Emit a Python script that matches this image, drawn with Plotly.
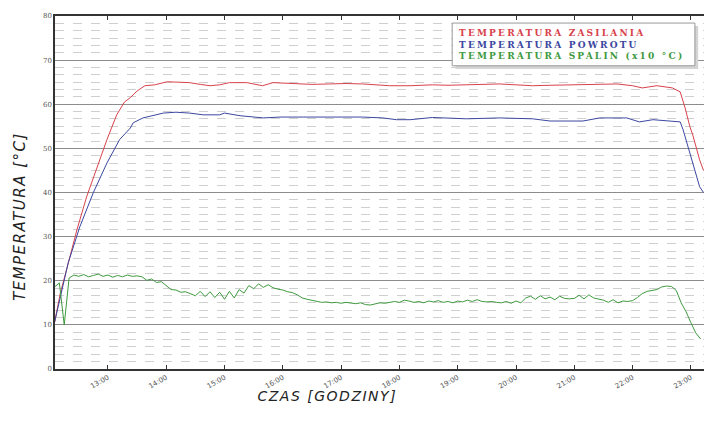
import plotly.graph_objects as go
import pandas as pd

DAY = "2013-01-01 "

# Supply temperature (red)
supply_times = ["12:05", "12:11", "12:18", "12:28", "12:38", "12:49", "12:59", "13:09", "13:17", "13:23",
                "13:30", "13:38", "13:48", "14:01", "14:12", "14:24", "14:35", "14:45", "14:55", "15:05",
                "15:23", "15:39", "15:50", "16:14", "16:30", "16:48", "17:05", "17:22", "17:50", "18:11",
                "18:34", "18:50", "19:09", "19:25", "19:43", "20:00", "20:17", "20:35", "20:52", "21:10",
                "21:26", "21:44", "22:00", "22:10", "22:25", "22:41", "22:49", "22:54", "22:59", "23:02",
                "23:09", "23:13"]
supply_vals = [10.5, 17.2, 23.0, 31.5, 39.0, 45.8, 52.0, 57.6, 60.5, 61.5,
               63.0, 64.2, 64.4, 65.1, 65.0, 64.9, 64.5, 64.2, 64.4, 64.9,
               64.9, 64.2, 64.9, 64.6, 64.5, 64.6, 64.7, 64.6, 64.2, 64.2,
               64.4, 64.3, 64.4, 64.5, 64.6, 64.4, 64.2, 64.3, 64.4, 64.5,
               64.6, 64.6, 64.2, 63.7, 64.2, 63.7, 62.8, 59.2, 54.9, 53.0,
               47.4, 45.0]

# Return temperature (blue)
return_times = ["12:05", "12:13", "12:19", "12:31", "12:45", "12:59", "13:12", "13:23", "13:26", "13:36",
                "13:57", "14:10", "14:24", "14:38", "14:55", "15:00", "15:16", "15:40", "15:57", "16:21",
                "16:48", "17:22", "17:43", "17:57", "18:11", "18:34", "19:09", "19:43", "20:17", "20:35",
                "21:09", "21:26", "21:54", "22:07", "22:21", "22:35", "22:49", "22:52", "23:01", "23:09",
                "23:13"]
return_vals = [10.5, 18.6, 24.0, 32.2, 40.0, 46.7, 52.0, 54.6, 55.8, 56.9,
               58.0, 58.2, 58.0, 57.6, 57.6, 58.0, 57.4, 56.9, 57.1, 57.1,
               57.1, 57.1, 56.9, 56.5, 56.5, 57.0, 56.7, 56.9, 56.7, 56.2,
               56.2, 56.9, 56.9, 56.0, 56.5, 56.2, 56.0, 54.2, 47.4, 41.3,
               40.0]

# Flue gas temperature (green, x10 degC), sampled every 5 minutes from 12:05
flue_start = "12:05"
flue_vals = [
    18.6, 19.5, 10.0, 20.6, 21.3, 21.0, 21.4, 20.9, 21.2, 21.5, 21.0,
    21.3, 20.8, 21.2, 20.9, 21.3, 21.0, 21.1, 20.9, 20.1, 20.4, 19.6, 19.8,
    18.8, 18.0, 17.9, 17.4, 17.5, 17.1, 16.6, 17.6, 16.4, 17.5, 16.2, 17.4,
    15.8, 17.6, 16.1, 18.0, 17.2, 18.9, 18.2, 19.3, 18.5, 19.1, 18.4, 18.1,
    17.9, 17.5, 17.3, 16.8, 16.1, 15.8, 15.6, 15.3, 15.1, 15.2, 15.0, 15.1,
    14.9, 15.1, 15.0, 14.8, 15.0, 14.6, 14.5, 14.8, 15.0, 14.9, 15.1, 15.3,
    15.1, 15.6, 15.4, 15.1, 15.3, 15.0, 15.4, 15.2, 15.5, 15.1, 15.3, 15.0,
    15.4, 15.2, 15.6, 15.3, 15.7, 15.3, 15.2, 15.3, 15.1, 15.0, 15.3, 14.9,
    15.4, 15.0, 16.1, 16.5, 15.8, 16.6, 15.9, 16.3, 15.7, 16.5, 16.0, 15.9,
    16.0, 16.7, 15.9, 16.8, 16.1, 15.9, 15.6, 15.1, 15.7, 15.0, 15.4, 15.3,
    15.5, 16.2, 17.1, 17.6, 17.8, 18.0, 18.6, 18.8, 18.7, 17.8, 15.0, 13.0,
    10.5, 8.2, 6.8,
]

y_ticks = [0, 10, 20, 30, 40, 50, 60, 70, 80]
x_tick_labels = ["13:00", "14:00", "15:00", "16:00", "17:00", "18:00",
                 "19:00", "20:00", "21:00", "22:00", "23:00"]

legend_texts = ["TEMPERATURA ZASILANIA", "TEMPERATURA POWROTU", "TEMPERATURA SPALIN (x10 °C)"]
y_title = "TEMPERATURA [°C]"
x_title = "CZAS [GODZINY]"

RED = "#d8434c"
BLUE = "#3c47a0"
GREEN = "#3f9a3f"

supply_x = pd.to_datetime([DAY + t for t in supply_times])
return_x = pd.to_datetime([DAY + t for t in return_times])
flue_x = pd.date_range(DAY + flue_start, periods=len(flue_vals), freq="5min")

fig = go.Figure()
fig.add_trace(go.Scatter(x=supply_x, y=supply_vals, mode="lines",
                         line=dict(color=RED, width=1), showlegend=False))
fig.add_trace(go.Scatter(x=return_x, y=return_vals, mode="lines",
                         line=dict(color=BLUE, width=1), showlegend=False))
fig.add_trace(go.Scatter(x=flue_x, y=flue_vals, mode="lines",
                         line=dict(color=GREEN, width=1), showlegend=False))

tickvals = pd.to_datetime([DAY + t for t in x_tick_labels])

fig.update_layout(
    width=704, height=430,
    margin=dict(l=55, r=0, t=16, b=61),
    paper_bgcolor="white", plot_bgcolor="white",
    font=dict(family="DejaVu Sans", color="#444"),
    xaxis=dict(
        type="date", automargin=False,
        range=[DAY + "12:05:30", DAY + "23:13:30"],
        tickvals=tickvals, ticktext=x_tick_labels,
        tickangle=-30, tickfont=dict(size=7, color="#555", family="DejaVu Sans"),
        ticks="inside", ticklen=4, tickcolor="#333",
        showgrid=False, zeroline=False,
        showline=True, linecolor="#333", linewidth=1.5, mirror="ticks",
    ),
    yaxis=dict(
        range=[0, 80], tickvals=y_ticks, automargin=False,
        tickfont=dict(size=7, color="#555", family="DejaVu Serif"),
        ticks="", showgrid=True, gridcolor="#8c8c8c", gridwidth=1.2,
        zeroline=False, showline=True, linecolor="#333", linewidth=1.5,
        minor=dict(dtick=10/6, tick0=0, showgrid=True, gridcolor="#cfcfcf",
                   griddash="dash", gridwidth=1),
    ),
)

# legend box with shadow (paper coords: plot spans x 55..704, y 16..369)
fig.add_shape(type="rect", xref="paper", yref="paper",
              x0=0.617, x1=0.991, y0=0.850, y1=0.972,
              fillcolor="#d4d4d4", line=dict(width=0), layer="above")
fig.add_shape(type="rect", xref="paper", yref="paper",
              x0=0.612, x1=0.986, y0=0.859, y1=0.980,
              fillcolor="white", line=dict(color="#999", width=1), layer="above")
legend_html = "<br>".join(
    f"<span style='color:{c}'>{t}</span>" for t, c in zip(legend_texts, [RED, BLUE, GREEN])
)
fig.add_annotation(text=legend_html, xref="paper", yref="paper", x=0.620, y=0.972,
                   xanchor="left", yanchor="top", align="left", showarrow=False,
                   font=dict(family="DejaVu Serif", size=9, color=RED, weight="bold"))

fig.add_annotation(text=y_title, xref="paper", yref="paper", x=-0.054, y=0.433,
                   textangle=-90, showarrow=False, xanchor="center", yanchor="middle",
                   font=dict(family="DejaVu Sans", size=15, color="#222", style="italic"))
fig.add_annotation(text=x_title, xref="paper", yref="paper", x=0.42, y=-0.077,
                   showarrow=False, xanchor="center", yanchor="middle",
                   font=dict(family="DejaVu Sans", size=14, color="#222", style="italic"))

post_js = """
document.body.style.margin='0';
function spacing(){
  document.querySelectorAll('.annotation-text').forEach(function(t){
    var s=t.textContent;
    if(s.indexOf('ZASILANIA')>=0){t.style.letterSpacing='2.2px';}
    else if(s.indexOf('TEMPERATURA')>=0 || s.indexOf('CZAS')>=0){t.style.letterSpacing='1.5px';}
  });
}
spacing(); setTimeout(spacing, 30);
var gd=document.getElementById('{plot_id}');
if(gd && gd.on){gd.on('plotly_afterplot', spacing);}
"""

fig.write_html("out.html", post_script=post_js, config={"displayModeBar": False})
